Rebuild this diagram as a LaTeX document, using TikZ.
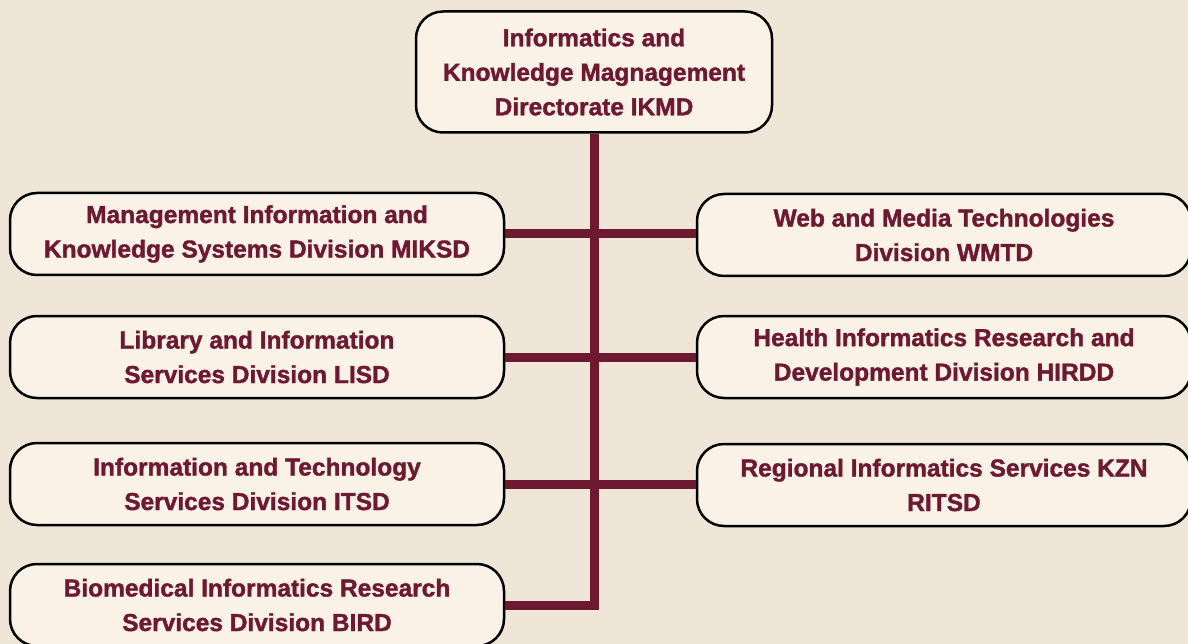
\documentclass[tikz,border=0pt]{standalone}
\usepackage{fontspec}
\setmainfont{Liberation Sans}[BoldFeatures={FakeBold=1.5}]
\definecolor{bgcream}{RGB}{240,230,215}
\definecolor{boxcream}{RGB}{250,242,230}
\definecolor{maroon}{RGB}{110,25,50}

\begin{document}
\begin{tikzpicture}[x=1pt, y=-1pt,
    unit/.style={draw=black, line width=2.5pt, fill=boxcream, rounded corners=27pt,
        text=maroon, font=\fontsize{24.5}{34.5}\selectfont\bfseries, align=center, inner sep=0pt},
    division/.style={unit, minimum width=494pt, minimum height=82pt},
    link/.style={draw=maroon, line width=9pt, line join=miter}]
% Background
\fill[bgcream] (0,0) rectangle (1188,644);
\useasboundingbox (0,0) rectangle (1188,644);

% Directorate
\node[unit, minimum width=356pt, minimum height=121pt] (ikmd) at (594,72)
    {Informatics and\\Knowledge Magnagement\\Directorate IKMD};

% Left divisions
\node[division] (miksd) at (257,234) {Management Information and\\Knowledge Systems Division MIKSD};
\node[division] (lisd) at (257,357) {Library and Information\\Services Division LISD};
\node[division] (itsd) at (257,484) {Information and Technology\\Services Division ITSD};
\node[division] (bird) at (257,605) {Biomedical Informatics Research\\Services Division BIRD};

% Right divisions
\node[division] (wmtd) at (944,235) {Web and Media Technologies\\Division WMTD};
\node[division] (hirdd) at (944,357) {Health Informatics Research and\\Development Division HIRDD};
\node[division] (ritsd) at (944,485) {Regional Informatics Services KZN\\RITSD};

% Connectors
\draw[link] (ikmd.south) |- (bird.east);
\draw[link] (miksd.east) -- (miksd.east -| wmtd.west);
\draw[link] (lisd.east) -- (lisd.east -| hirdd.west);
\draw[link] (itsd.east) -- (itsd.east -| ritsd.west);
\end{tikzpicture}
\end{document}
